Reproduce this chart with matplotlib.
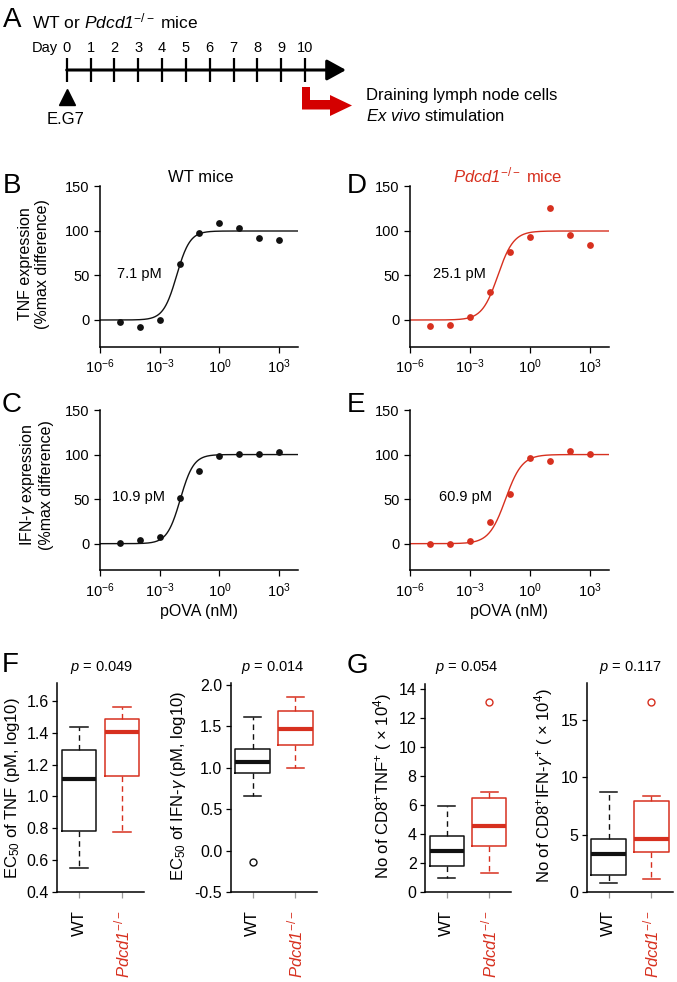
"""Dose-response curves and EC50 / cell-count box plots, WT vs Pdcd1-/- mice."""

import matplotlib

matplotlib.use("Agg")
import matplotlib.pyplot as plt
import numpy as np
from matplotlib.patches import Polygon
from matplotlib.ticker import NullLocator

W, H = 677, 982
BLACK = "#111111"
RED = "#d7301f"
ARROW_RED = "#d40000"

plt.rcParams["font.family"] = ["Liberation Sans", "DejaVu Sans"]
plt.rcParams["mathtext.fontset"] = "custom"
plt.rcParams["mathtext.rm"] = "Liberation Sans"
plt.rcParams["mathtext.it"] = "Liberation Sans:italic"
plt.rcParams["mathtext.sf"] = "Liberation Sans:italic"
plt.rcParams["mathtext.bf"] = "Liberation Sans:bold"

# italic gene name incl. the digit (mathsf is mapped to the italic face)
KO = r"$\mathsf{Pdcd1}^{-/-}$"

# ---- panel A timeline
days = list(range(11))

# ---- panels B-E: dose response (pOVA, nM)
dose_nM = [1e-5, 1e-4, 1e-3, 1e-2, 1e-1, 1e0, 1e1, 1e2, 1e3]
tnf_wt = [-2.6, -7.8, 0.4, 63, 97.8, 108.6, 103.4, 92.5, 89.9]
tnf_ko = [-6.3, -5.6, 3.0, 32, 76, 93, 126, 95.5, 84.7]
ifn_wt = [0.7, 4.0, 7.0, 50.7, 81.3, 98.5, 101, 101, 103]
ifn_ko = [-0.4, -0.4, 3.0, 24.6, 55.6, 96.6, 93, 103.7, 101]
ec50_pM = {"tnf_wt": 7.1, "tnf_ko": 25.1, "ifn_wt": 10.9, "ifn_ko": 60.9}
hill = {"tnf_wt": 1.3, "tnf_ko": 1.1, "ifn_wt": 1.3, "ifn_ko": 1.05}

# ---- panels F, G: box stats (whislo, q1, median, q3, whishi)
groups = ["WT", KO]
f_tnf_wt = [0.548, 0.782, 1.108, 1.292, 1.438]
f_tnf_ko = [0.778, 1.130, 1.403, 1.485, 1.560]
f_ifn_wt = [0.658, 0.932, 1.065, 1.226, 1.605]
f_ifn_ko = [0.993, 1.274, 1.464, 1.677, 1.847]
f_ifn_wt_out = [-0.144]
g_tnf_wt = [0.96, 1.81, 2.84, 3.87, 5.93]
g_tnf_ko = [1.35, 3.18, 4.56, 6.46, 6.89]
g_tnf_ko_out = [13.07]
g_ifn_wt = [0.84, 1.50, 3.33, 4.64, 8.70]
g_ifn_ko = [1.18, 3.53, 4.61, 7.97, 8.41]
g_ifn_ko_out = [16.56]

fig = plt.figure(figsize=(W / 100, H / 100), dpi=100)


def px_axes(left, top, right, bottom):
    return fig.add_axes([left / W, 1 - bottom / H, (right - left) / W, (bottom - top) / H])


# ---------------- panel A (schematic, pixel coordinates)
ov = fig.add_axes([0, 0, 1, 1])
ov.set_xlim(0, W)
ov.set_ylim(H, 0)
ov.axis("off")

day_x0, day_step, line_y = 66.7, 23.83, 70
ov.annotate("", xy=(346, line_y), xytext=(day_x0, line_y),
            arrowprops=dict(arrowstyle="-|>,head_length=0.4,head_width=0.22", lw=2.2,
                            color="black", mutation_scale=29, shrinkA=0, shrinkB=0))
for d in days:
    x = day_x0 + d * day_step
    ov.plot([x, x], [58, 82], color="black", lw=1.6, solid_capstyle="butt")
    ov.text(x, 52, str(d), ha="center", va="baseline", fontsize=10.5)
ov.text(58, 52, "Day", ha="right", va="baseline", fontsize=10.5)
ov.plot(day_x0, 96.5, marker="^", ms=11, color="black")
ov.text(66, 124, "E.G7", ha="center", va="baseline", fontsize=12)
ov.text(32, 28, r"WT or " + KO + " mice", ha="left", va="baseline", fontsize=12.5)

x10 = day_x0 + 10 * day_step + 1
bent = [(x10 - 4, 87), (x10 + 4, 87), (x10 + 4, 100), (330, 100), (330, 95), (352, 105.5),
        (330, 116), (330, 109.5), (x10 - 4, 109.5)]
ov.add_patch(Polygon(bent, closed=True, facecolor=ARROW_RED, edgecolor="none"))
ov.text(366, 100, "Draining lymph node cells", ha="left", va="baseline", fontsize=12)
ov.text(366, 121, r"$\mathit{Ex\ vivo}$ stimulation", ha="left", va="baseline", fontsize=12)

for letter, x, y in [("A", 3, 27), ("B", 3, 193), ("C", 2, 412), ("D", 347, 193),
                     ("E", 347, 412), ("F", 2, 672), ("G", 347, 673)]:
    ov.text(x, y, letter, ha="left", va="baseline", fontsize=20)


# ---------------- panels B-E
def dose_panel(ax, y, key, color, label_x, xlabel=False):
    xs = np.logspace(-6, 3.95, 400)
    fit = 100.0 / (1.0 + (ec50_pM[key] * 1e-3 / xs) ** hill[key])
    ax.plot(xs, fit, color=color, lw=1.0)
    ax.scatter(dose_nM, y, s=24, color=color, zorder=3, linewidths=0, clip_on=False)
    ax.set_xscale("log")
    ax.set_xlim(1e-6, 10 ** 3.95)
    ax.set_ylim(-30, 150)
    ax.set_xticks([1e-6, 1e-3, 1e0, 1e3])
    ax.set_xticklabels([r"10$^{-6}$", r"10$^{-3}$", r"10$^{0}$", r"10$^{3}$"])
    ax.xaxis.set_minor_locator(NullLocator())
    ax.set_yticks([0, 50, 100, 150])
    for side in ("top", "right"):
        ax.spines[side].set_visible(False)
    for side in ("left", "bottom"):
        ax.spines[side].set_linewidth(1.1)
    ax.tick_params(length=4, width=0.9, labelsize=10.5)
    ax.tick_params(axis="x", pad=4)
    ax.tick_params(axis="y", pad=3.5)
    ax.patch.set_alpha(0)
    ax.text(label_x, 52, f"{ec50_pM[key]} pM", ha="center", va="center", fontsize=10.5)
    if xlabel:
        ax.set_xlabel("pOVA (nM)", fontsize=11.5, labelpad=3)


axB = px_axes(100, 186.5, 298, 346.7)
dose_panel(axB, tnf_wt, "tnf_wt", BLACK, 1e-4)
axD = px_axes(410, 186.5, 608.7, 346.7)
dose_panel(axD, tnf_ko, "tnf_ko", RED, 10 ** -3.5)
axC = px_axes(100, 410, 298, 570.4)
dose_panel(axC, ifn_wt, "ifn_wt", BLACK, 10 ** -4.05, xlabel=True)
axE = px_axes(410, 410, 608.7, 570.4)
dose_panel(axE, ifn_ko, "ifn_ko", RED, 10 ** -3.2, xlabel=True)

fig.text(201 / W, 1 - 177 / H, "WT mice", ha="center", va="center", fontsize=12)
fig.text(508 / W, 1 - 175 / H, KO + " mice", ha="center", va="center", fontsize=12, color=RED)
fig.text(34 / W, 1 - 264 / H, "TNF expression\n(%max difference)", rotation=90,
         ha="center", va="center", fontsize=11.5, linespacing=1.15)
fig.text(36 / W, 1 - 485 / H, "IFN-$\\gamma$ expression\n(%max difference)", rotation=90,
         ha="center", va="center", fontsize=11.5, linespacing=1.15)


# ---------------- panels F, G
def box_panel(ax, wt, ko, ylim, yticks, ylabels, wt_out=(), ko_out=()):
    stats = []
    for vals, out in ((wt, wt_out), (ko, ko_out)):
        lo, q1, med, q3, hi = vals
        stats.append(dict(whislo=lo, q1=q1, med=med, q3=q3, whishi=hi, fliers=list(out)))
    art = ax.bxp(stats, positions=[1, 2], widths=0.8, capwidths=0.4, showfliers=True,
                 boxprops=dict(lw=1.1), whiskerprops=dict(lw=1.0, linestyle=(0, (4, 3))),
                 capprops=dict(lw=1.1), medianprops=dict(lw=3.0, solid_capstyle="butt"),
                 flierprops=dict(marker="o", ms=5, mfc="none", mew=1.0))
    for i, color in enumerate((BLACK, RED)):
        art["boxes"][i].set_color(color)
        art["medians"][i].set_color(color)
        art["fliers"][i].set_markeredgecolor(color)
        for j in (2 * i, 2 * i + 1):
            art["whiskers"][j].set_color(color)
            art["caps"][j].set_color(color)
    ax.set_xlim(0.49, 2.51)
    ax.set_ylim(*ylim)
    ax.set_yticks(yticks)
    ax.set_yticklabels(ylabels)
    ax.set_xticks([1, 2])
    ax.set_xticklabels(groups, rotation=90, va="top")
    ax.get_xticklabels()[1].set_color(RED)
    for side in ("top", "right"):
        ax.spines[side].set_visible(False)
    for side in ("left", "bottom"):
        ax.spines[side].set_linewidth(1.1)
    ax.tick_params(axis="y", length=3.5, width=0.9, labelsize=11.5, pad=2.5)
    ax.tick_params(axis="x", length=4, width=0.9, color="#9a9a9a", labelsize=12, pad=9)
    ax.patch.set_alpha(0)


axF1 = px_axes(57, 683, 144, 892)
box_panel(axF1, f_tnf_wt, f_tnf_ko, (0.4, 1.713), [0.4, 0.6, 0.8, 1.0, 1.2, 1.4, 1.6],
          ["0.4", "0.6", "0.8", "1.0", "1.2", "1.4", "1.6"])
axF2 = px_axes(230.7, 683, 317.3, 892)
box_panel(axF2, f_ifn_wt, f_ifn_ko, (-0.5, 2.02), [-0.5, 0, 0.5, 1.0, 1.5, 2.0],
          ["-0.5", "0.0", "0.5", "1.0", "1.5", "2.0"], wt_out=f_ifn_wt_out)
axG1 = px_axes(425, 684.3, 510.7, 892.3)
box_panel(axG1, g_tnf_wt, g_tnf_ko, (0, 14.3), [0, 2, 4, 6, 8, 10, 12, 14],
          ["0", "2", "4", "6", "8", "10", "12", "14"], ko_out=g_tnf_ko_out)
axG2 = px_axes(586.7, 683.3, 673.3, 892.3)
box_panel(axG2, g_ifn_wt, g_ifn_ko, (0, 18.2), [0, 5, 10, 15],
          ["0", "5", "10", "15"], ko_out=g_ifn_ko_out)

for x, txt in [(101, "0.049"), (273, "0.014"), (467, "0.054"), (630, "0.117")]:
    fig.text(x / W, 1 - 667 / H, r"$p$ = " + txt, ha="center", va="center", fontsize=10.5)

fig.text(13 / W, 1 - 788 / H, r"EC$_{50}$ of TNF (pM, log10)", rotation=90,
         ha="center", va="center", fontsize=12)
fig.text(178 / W, 1 - 786 / H, r"EC$_{50}$ of IFN-$\gamma$ (pM, log10)", rotation=90,
         ha="center", va="center", fontsize=12)
fig.text(383 / W, 1 - 786 / H, r"No of CD8$^{+}$TNF$^{+}$ ( $\times$ 10$^{4}$)", rotation=90,
         ha="center", va="center", fontsize=12)
fig.text(544 / W, 1 - 786 / H, r"No of CD8$^{+}$IFN-$\gamma^{+}$ ( $\times$ 10$^{4}$)", rotation=90,
         ha="center", va="center", fontsize=12)

fig.savefig("out.png", dpi=100)
